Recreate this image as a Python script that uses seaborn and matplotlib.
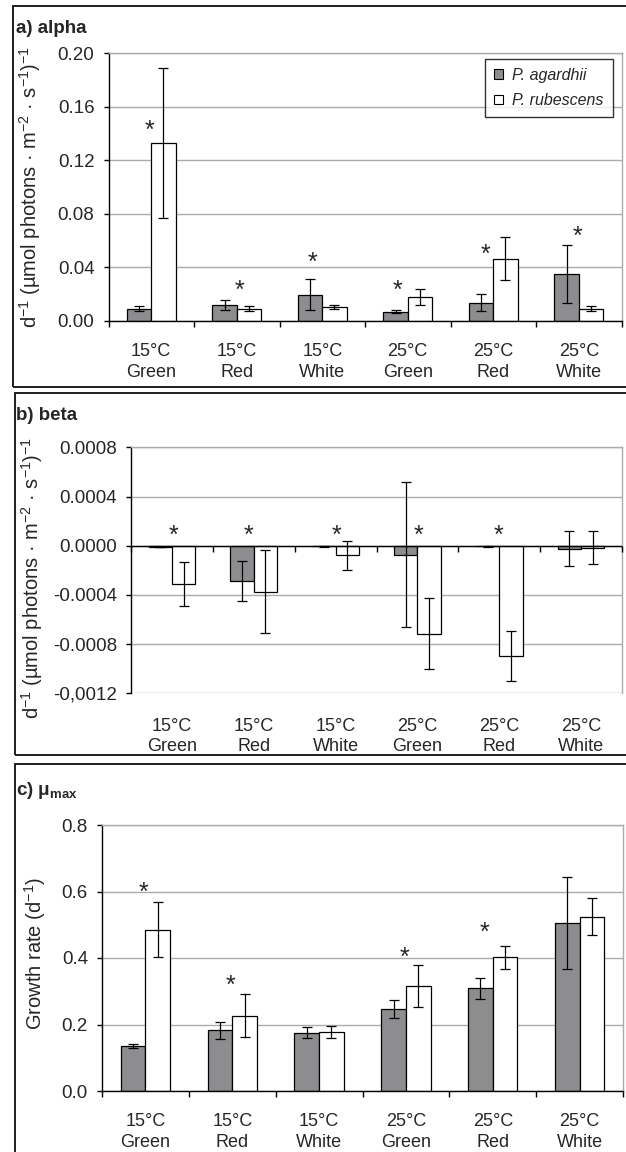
import numpy as np
import pandas as pd
import matplotlib
matplotlib.use("Agg")
import matplotlib.pyplot as plt
from matplotlib.patches import Rectangle
import seaborn as sns

# ---------------- data ----------------
categories = ["15°C\nGreen", "15°C\nRed", "15°C\nWhite",
              "25°C\nGreen", "25°C\nRed", "25°C\nWhite"]
species = ["P. agardhii", "P. rubescens"]

alpha_agardhii = [0.0092, 0.0120, 0.0197, 0.0070, 0.0137, 0.0350]
alpha_agardhii_err = [0.0020, 0.0040, 0.0116, 0.0010, 0.0066, 0.0215]
alpha_rubescens = [0.1328, 0.0092, 0.0102, 0.0180, 0.0466, 0.0092]
alpha_rubescens_err = [0.0560, 0.0020, 0.0015, 0.0060, 0.0163, 0.0020]
alpha_signif = [0.1477, 0.0280, 0.0493, 0.0280, 0.0548, 0.0687]

beta_agardhii = [-0.000010, -0.000287, -0.000005, -0.000073, -0.000005, -0.000024]
beta_agardhii_err = [0.000003, 0.000164, 0.000002, 0.000590, 0.000002, 0.000145]
beta_rubescens = [-0.000311, -0.000373, -0.000078, -0.000714, -0.000893, -0.000016]
beta_rubescens_err = [0.000177, 0.000335, 0.000118, 0.000292, 0.000203, 0.000132]
beta_signif = [0.00014, 0.00014, 0.00014, 0.00014, 0.00014, np.nan]

mu_agardhii = [0.1357, 0.182, 0.175, 0.247, 0.3085, 0.5045]
mu_agardhii_err = [0.0065, 0.0246, 0.0166, 0.0266, 0.0327, 0.138]
mu_rubescens = [0.4854, 0.226, 0.178, 0.3156, 0.402, 0.5246]
mu_rubescens_err = [0.082, 0.065, 0.018, 0.062, 0.035, 0.0553]
mu_signif = [0.619, 0.338, np.nan, 0.422, 0.4985, np.nan]

beta_ticklabels = ["0.0008", "0.0004", "0.0000", "-0.0004", "-0.0008", "-0,0012"]

# ---------------- style ----------------
sns.set_style("white")
plt.rcParams["font.family"] = ["Liberation Sans", "DejaVu Sans"]
plt.rcParams["mathtext.fontset"] = "custom"
plt.rcParams["mathtext.rm"] = "Liberation Sans"
plt.rcParams["mathtext.it"] = "Liberation Sans:italic"
plt.rcParams["mathtext.bf"] = "Liberation Sans:bold"

GREY = "#8d8d90"
GRID = "#ababab"
palette = {species[0]: GREY, species[1]: "white"}

fig = plt.figure(figsize=(6.26, 11.52), dpi=100)

# panel frames
for (x0, ytop, ybot) in [(13, 6, 387), (15, 393, 755), (15, 764, 1200)]:
    fig.patches.append(Rectangle((x0 / 626, 1 - ybot / 1152), 1.2, (ybot - ytop) / 1152,
                                 transform=fig.transFigure, fill=False,
                                 lw=1.4, ec="#1e1e1e"))


def make_df(ag, rub):
    return pd.DataFrame({
        "cond": categories * 2,
        "sp": [species[0]] * 6 + [species[1]] * 6,
        "val": list(ag) + list(rub),
    })


def panel(ax, ag, ag_err, rub, rub_err, legend):
    df = make_df(ag, rub)
    sns.barplot(data=df, x="cond", y="val", hue="sp", order=categories,
                hue_order=species, palette=palette, edgecolor="black",
                linewidth=0.9, width=0.57, errorbar=None, legend=legend,
                saturation=1, ax=ax, zorder=2)
    for cont, errs in zip(ax.containers, [ag_err, rub_err]):
        xs = [p.get_x() + p.get_width() / 2 for p in cont.patches]
        ys = [p.get_y() + p.get_height() for p in cont.patches]
        ax.errorbar(xs, ys, yerr=errs, fmt="none", ecolor="black",
                    elinewidth=0.9, capsize=3.3, capthick=0.9, zorder=4)
    ax.set_xlabel("")
    ax.set_xlim(-0.5, 5.5)
    ax.set_axisbelow(True)
    ax.yaxis.grid(True, color=GRID, lw=1.0)
    ax.xaxis.grid(False)
    for s in ["top", "right"]:
        ax.spines[s].set_color(GRID)
        ax.spines[s].set_linewidth(1.0)
    for s in ["left", "bottom"]:
        ax.spines[s].set_color("black")
        ax.spines[s].set_linewidth(1.0)
    ax.tick_params(axis="y", which="major", length=3.6, width=1.0,
                   direction="out", color="black", left=True, labelsize=13.5, pad=6.5)
    ax.tick_params(axis="x", which="major", length=0, labelsize=13)
    ax.set_xticks(np.arange(-0.5, 6, 1), minor=True)
    for lbl in ax.get_xticklabels():
        lbl.set_linespacing(1.28)


def stars(ax, ys, dx, fs=18):
    for i, (y, d) in enumerate(zip(ys, dx)):
        if np.isnan(y):
            continue
        ax.annotate("*", xy=(i + d, y), xytext=(0, -0.58 * fs),
                    textcoords="offset points", ha="center", va="baseline",
                    fontsize=fs, zorder=5)


ylab = r"d$^{-1}$ (µmol photons · m$^{-2}$ · s$^{-1}$)$^{-1}$"

# ---------- panel a ----------
axa = fig.add_axes([108.5 / 626, 1 - 321 / 1152, 513 / 626, 267.7 / 1152])
panel(axa, alpha_agardhii, alpha_agardhii_err, alpha_rubescens, alpha_rubescens_err, True)
axa.set_ylim(0, 0.20)
axa.set_yticks(np.arange(0, 0.2001, 0.04))
axa.set_yticklabels([f"{v:.2f}" for v in np.arange(0, 0.2001, 0.04)])
axa.tick_params(axis="x", which="minor", length=4.3, width=1.0, direction="out",
                color="black", bottom=True)
axa.tick_params(axis="x", which="major", pad=16)
axa.set_ylabel(ylab, fontsize=14.5)
axa.yaxis.set_label_coords(-0.128, 0.5)
stars(axa, alpha_signif, [-0.02, 0.03, -0.11, -0.12, -0.09, -0.01])
sns.move_legend(axa, "upper right", bbox_to_anchor=(0.9825, 0.979), title=None,
                frameon=True, fancybox=False, borderaxespad=0,
                prop={"style": "italic", "size": 11.5}, handlelength=0.55,
                handleheight=0.55, handletextpad=0.6, labelspacing=0.65,
                borderpad=0.55)
leg = axa.get_legend()
leg.get_frame().set_edgecolor("black")
leg.get_frame().set_linewidth(1.0)
for h in leg.legend_handles:
    h.set_edgecolor("black")
    h.set_linewidth(0.8)

fig.text(16 / 626, 1 - 33 / 1152, "a) alpha", fontsize=13.5, fontweight="bold",
         va="baseline", ha="left")

# ---------- panel b ----------
axb = fig.add_axes([131 / 626, 1 - 693.3 / 1152, 491 / 626, 246 / 1152])
panel(axb, beta_agardhii, beta_agardhii_err, beta_rubescens, beta_rubescens_err, False)
axb.set_ylim(-0.0012, 0.0008)
bt = np.linspace(0.0008, -0.0012, 6)
axb.set_yticks(bt)
axb.set_yticklabels(beta_ticklabels)
axb.spines["bottom"].set_visible(False)
axb.tick_params(axis="x", which="major", pad=17.5)
axb.axhline(0, color="black", lw=1.0, zorder=3)
axb.plot(np.arange(-0.5, 6, 1), np.zeros(7), ls="none", marker=3, ms=4.2,
         mew=1.0, color="black", clip_on=False, zorder=3)
axb.set_ylabel(ylab, fontsize=14.5)
axb.yaxis.set_label_coords(-0.175, 0.467)
stars(axb, beta_signif, [0.02, -0.07, 0.01, 0.01, -0.01, 0.0])
fig.text(16 / 626, 1 - 420 / 1152, "b) beta", fontsize=13.5, fontweight="bold",
         va="baseline", ha="left")

# ---------- panel c ----------
axc = fig.add_axes([102 / 626, 1 - 1091 / 1152, 521 / 626, 266 / 1152])
panel(axc, mu_agardhii, mu_agardhii_err, mu_rubescens, mu_rubescens_err, False)
axc.set_ylim(0, 0.8)
axc.set_yticks(np.arange(0, 0.801, 0.2))
axc.set_yticklabels([f"{v:.1f}" for v in np.arange(0, 0.801, 0.2)])
axc.tick_params(axis="x", which="minor", length=4.3, width=1.0, direction="out",
                color="black", bottom=True)
axc.tick_params(axis="x", which="major", pad=16)
axc.set_ylabel(r"Growth rate (d$^{-1}$)", fontsize=14.5)
axc.yaxis.set_label_coords(-0.104, 0.517)
stars(axc, mu_signif, [-0.02, -0.02, 0.0, -0.02, -0.10, 0.0])
fig.text(16 / 626, 1 - 795 / 1152, r"c) $\mathbf{\mu_{max}}$", fontsize=13.5,
         fontweight="bold", va="baseline", ha="left")

fig.savefig("out.png", dpi=100)
